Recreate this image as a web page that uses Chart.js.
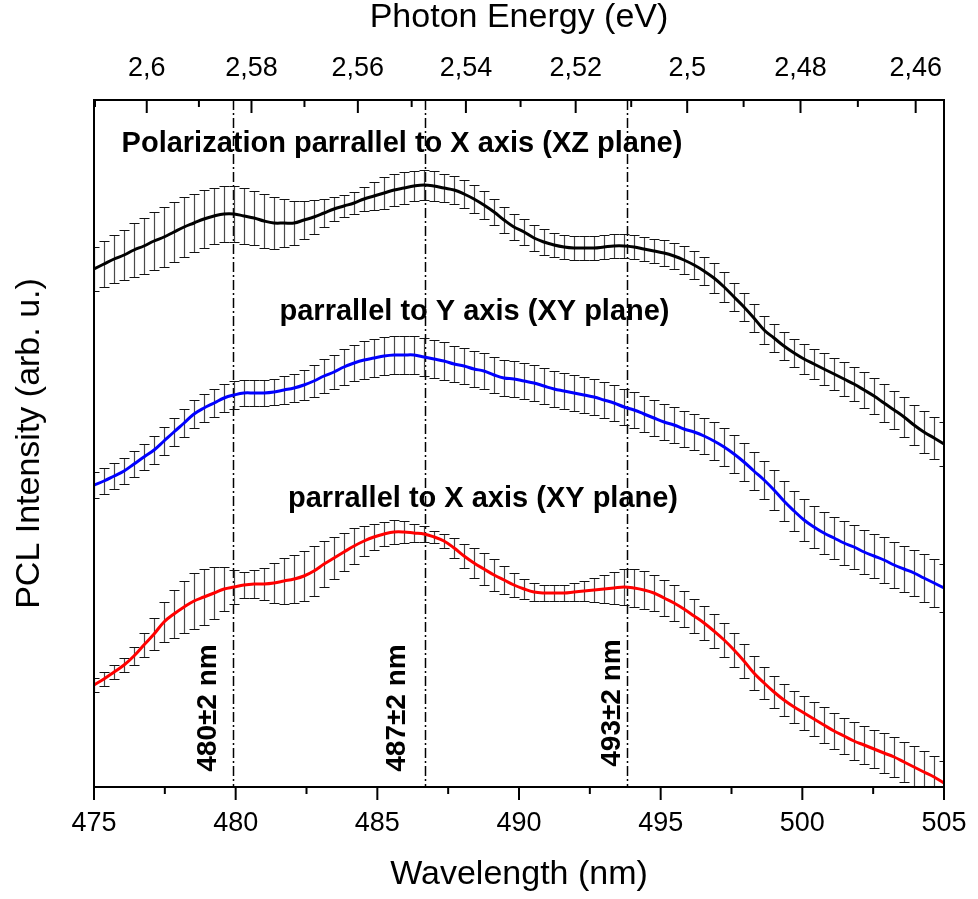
<!DOCTYPE html>
<html>
<head>
<meta charset="utf-8">
<script src="https://cdn.jsdelivr.net/npm/chart.js@4/dist/chart.umd.min.js"></script>
<style>
  html, body { margin: 0; padding: 0; background: #fff; }
  canvas { display: block; }
</style>
</head>
<body>
<canvas id="pcl" width="978" height="899"></canvas>
<script>
// Sampling grid of the PCL spectra (nm)
const wavelengthNm = [
  475.00, 475.35, 475.71, 476.06, 476.41, 476.76, 477.12, 477.47, 477.82, 478.18,
  478.53, 478.88, 479.24, 479.59, 479.94, 480.29, 480.65, 481.00, 481.35, 481.71,
  482.06, 482.41, 482.76, 483.12, 483.47, 483.82, 484.18, 484.53, 484.88, 485.24,
  485.59, 485.94, 486.29, 486.65, 487.00, 487.35, 487.71, 488.06, 488.41, 488.76,
  489.12, 489.47, 489.82, 490.18, 490.53, 490.88, 491.24, 491.59, 491.94, 492.29,
  492.65, 493.00, 493.35, 493.71, 494.06, 494.41, 494.76, 495.12, 495.47, 495.82,
  496.18, 496.53, 496.88, 497.24, 497.59, 497.94, 498.29, 498.65, 499.00, 499.35,
  499.71, 500.06, 500.41, 500.76, 501.12, 501.47, 501.82, 502.18, 502.53, 502.88,
  503.24, 503.59, 503.94, 504.29, 504.65, 505.00
];

// Polarization parallel to X axis, XZ plane (offset trace, arb. u.)
const xzPolX = [
  5.18, 5.23, 5.28, 5.32, 5.37, 5.41, 5.46, 5.50, 5.55, 5.60,
  5.64, 5.68, 5.71, 5.73, 5.73, 5.71, 5.69, 5.66, 5.64, 5.64,
  5.64, 5.67, 5.70, 5.74, 5.78, 5.81, 5.84, 5.88, 5.91, 5.94,
  5.97, 5.99, 6.01, 6.02, 6.01, 5.99, 5.97, 5.93, 5.88, 5.82,
  5.75, 5.67, 5.60, 5.55, 5.49, 5.45, 5.42, 5.40, 5.39, 5.39,
  5.39, 5.40, 5.41, 5.41, 5.40, 5.38, 5.36, 5.34, 5.31, 5.27,
  5.22, 5.16, 5.09, 5.00, 4.90, 4.80, 4.69, 4.57, 4.49, 4.41,
  4.34, 4.28, 4.23, 4.18, 4.13, 4.08, 4.03, 3.97, 3.91, 3.84,
  3.77, 3.70, 3.62, 3.55, 3.49, 3.43
];
const xzPolXErr = [
  0.22, 0.23, 0.24, 0.25, 0.27, 0.28, 0.29, 0.30, 0.30, 0.30,
  0.29, 0.29, 0.28, 0.28, 0.28, 0.28, 0.27, 0.27, 0.26, 0.24,
  0.22, 0.19, 0.17, 0.14, 0.12, 0.11, 0.11, 0.12, 0.14, 0.16,
  0.16, 0.16, 0.15, 0.15, 0.15, 0.14, 0.14, 0.14, 0.14, 0.14,
  0.13, 0.13, 0.13, 0.13, 0.13, 0.13, 0.12, 0.12, 0.12, 0.12,
  0.12, 0.12, 0.12, 0.12, 0.12, 0.12, 0.12, 0.13, 0.13, 0.14,
  0.14, 0.14, 0.15, 0.15, 0.14, 0.14, 0.14, 0.14, 0.14, 0.14,
  0.14, 0.15, 0.15, 0.16, 0.16, 0.17, 0.17, 0.18, 0.18, 0.19,
  0.19, 0.20, 0.20, 0.21, 0.21, 0.22
];

// Polarization parallel to Y axis, XY plane
const xyPolY = [
  3.02, 3.06, 3.11, 3.16, 3.23, 3.30, 3.37, 3.46, 3.55, 3.64,
  3.73, 3.79, 3.84, 3.89, 3.92, 3.94, 3.94, 3.94, 3.95, 3.97,
  3.99, 4.02, 4.06, 4.11, 4.15, 4.20, 4.24, 4.27, 4.29, 4.31,
  4.32, 4.32, 4.32, 4.30, 4.28, 4.26, 4.23, 4.21, 4.18, 4.16,
  4.12, 4.09, 4.08, 4.06, 4.04, 4.01, 3.98, 3.96, 3.94, 3.92,
  3.90, 3.87, 3.84, 3.80, 3.77, 3.73, 3.69, 3.65, 3.62, 3.58,
  3.55, 3.51, 3.46, 3.40, 3.33, 3.25, 3.16, 3.07, 2.97, 2.86,
  2.76, 2.67, 2.60, 2.54, 2.49, 2.44, 2.40, 2.35, 2.31, 2.27,
  2.22, 2.18, 2.14, 2.09, 2.04, 1.99
];
const xyPolYErr = [
  0.13, 0.13, 0.13, 0.13, 0.13, 0.13, 0.14, 0.14, 0.14, 0.14,
  0.14, 0.14, 0.14, 0.14, 0.14, 0.13, 0.13, 0.13, 0.13, 0.14,
  0.14, 0.15, 0.16, 0.17, 0.17, 0.18, 0.18, 0.19, 0.19, 0.19,
  0.19, 0.19, 0.19, 0.19, 0.19, 0.19, 0.18, 0.18, 0.18, 0.18,
  0.18, 0.18, 0.18, 0.18, 0.18, 0.18, 0.18, 0.18, 0.18, 0.18,
  0.18, 0.18, 0.18, 0.18, 0.18, 0.18, 0.18, 0.18, 0.18, 0.18,
  0.18, 0.18, 0.19, 0.19, 0.19, 0.19, 0.19, 0.19, 0.20, 0.20,
  0.20, 0.21, 0.21, 0.21, 0.21, 0.22, 0.22, 0.22, 0.22, 0.23,
  0.23, 0.23, 0.23, 0.24, 0.24, 0.24
];

// Polarization parallel to X axis, XY plane
const xyPolX = [
  1.02, 1.08, 1.15, 1.22, 1.31, 1.42, 1.53, 1.65, 1.73, 1.80,
  1.86, 1.90, 1.94, 1.98, 2.00, 2.02, 2.03, 2.03, 2.04, 2.06,
  2.08, 2.11, 2.16, 2.23, 2.29, 2.35, 2.41, 2.46, 2.50, 2.53,
  2.55, 2.55, 2.54, 2.53, 2.50, 2.46, 2.39, 2.31, 2.24, 2.18,
  2.12, 2.07, 2.02, 1.98, 1.95, 1.94, 1.94, 1.94, 1.95, 1.96,
  1.97, 1.98, 1.99, 2.00, 1.99, 1.97, 1.94, 1.89, 1.84, 1.78,
  1.71, 1.64, 1.56, 1.47, 1.37, 1.26, 1.14, 1.04, 0.95, 0.87,
  0.80, 0.74, 0.68, 0.62, 0.56, 0.51, 0.46, 0.42, 0.38, 0.34,
  0.30, 0.25, 0.20, 0.15, 0.10, 0.04
];
const xyPolXErr = [
  0.07, 0.07, 0.07, 0.07, 0.09, 0.12, 0.16, 0.20, 0.24, 0.26,
  0.28, 0.28, 0.26, 0.22, 0.17, 0.13, 0.14, 0.16, 0.20, 0.23,
  0.24, 0.25, 0.25, 0.23, 0.21, 0.19, 0.18, 0.15, 0.13, 0.12,
  0.12, 0.11, 0.09, 0.08, 0.06, 0.07, 0.10, 0.12, 0.15, 0.16,
  0.16, 0.14, 0.12, 0.10, 0.09, 0.08, 0.08, 0.08, 0.09, 0.10,
  0.12, 0.14, 0.16, 0.18, 0.19, 0.19, 0.18, 0.18, 0.18, 0.18,
  0.17, 0.17, 0.17, 0.17, 0.17, 0.17, 0.17, 0.16, 0.16, 0.16,
  0.16, 0.17, 0.17, 0.18, 0.18, 0.18, 0.19, 0.19, 0.19, 0.20,
  0.20, 0.20, 0.21, 0.21, 0.21, 0.22
];

const seriesNames = [
  'Polarization parrallel to X axis (XZ plane)',
  'parrallel to Y axis (XY plane)',
  'parrallel to X axis (XY plane)'
];

// Peak positions (nm) and their labels
const peakNm = [479.92, 486.68, 493.81];
const peakLabels = ['480\u00b12 nm', '487\u00b12 nm', '493\u00b12 nm'];

// Secondary (photon energy) axis ticks, eV
const energyMajorEv = [2.6, 2.58, 2.56, 2.54, 2.52, 2.5, 2.48, 2.46];
const energyMinorEv = [2.61, 2.59, 2.57, 2.55, 2.53, 2.51, 2.49, 2.47];
const wavelengthMinorNm = [477.5, 482.5, 487.5, 492.5, 497.5, 502.5];

const HC_EV_NM = 1239.84;
const FONT = "'Liberation Sans', Arial, Helvetica, sans-serif";

// Where the text annotations sit, in data units (nm, arb. u.)
const seriesLabelAt = [
  { x: 485.87, y: 6.35 },
  { x: 488.43, y: 4.67 },
  { x: 488.73, y: 2.80 }
];
const peakLabelAt = [
  { x: 479.02, y: 0.79 },
  { x: 485.69, y: 0.79 },
  { x: 493.28, y: 0.84 }
];

const toPoints = vals => vals.map((v, i) => ({ x: wavelengthNm[i], y: v }));

const decorations = {
  id: 'decorations',
  beforeDatasetsDraw(chart) {
    const { ctx, chartArea: a, scales: { x, y } } = chart;
    ctx.save();
    // dash-dot markers at the peak wavelengths
    ctx.strokeStyle = '#000';
    ctx.lineWidth = 1.5;
    ctx.setLineDash([10, 3, 2, 3]);
    peakNm.forEach(nm => {
      const px = Math.round(x.getPixelForValue(nm)) + 0.5;
      ctx.beginPath();
      ctx.moveTo(px, a.top);
      ctx.lineTo(px, a.bottom);
      ctx.stroke();
    });
    ctx.setLineDash([]);
    // error bars with caps
    ctx.beginPath();
    ctx.rect(a.left, a.top, a.right - a.left, a.bottom - a.top);
    ctx.clip();
    chart.data.datasets.forEach(ds => {
      ds.data.forEach((p, i) => {
        const e = ds.errors[i];
        const px = Math.round(x.getPixelForValue(p.x)) + 0.5;
        const t = Math.round(y.getPixelForValue(p.y + e)) + 0.5;
        const b = Math.round(y.getPixelForValue(p.y - e)) + 0.5;
        ctx.lineWidth = 1.2;
        ctx.strokeStyle = '#4a4a4a';
        ctx.beginPath();
        ctx.moveTo(px, t); ctx.lineTo(px, b);
        ctx.stroke();
        ctx.strokeStyle = '#111';
        ctx.lineWidth = 1.2;
        ctx.beginPath();
        ctx.moveTo(px - 5, t); ctx.lineTo(px + 5, t);
        ctx.moveTo(px - 5, b); ctx.lineTo(px + 5, b);
        ctx.stroke();
      });
    });
    ctx.restore();
  },
  afterDraw(chart) {
    const { ctx, chartArea: a, scales: { x, y } } = chart;
    ctx.save();
    ctx.strokeStyle = '#000';
    ctx.lineWidth = 2;
    // frame
    ctx.strokeRect(a.left, a.top, a.right - a.left, a.bottom - a.top);
    // bottom ticks (outward)
    const tick = (px, y0, len) => {
      ctx.beginPath(); ctx.moveTo(px, y0); ctx.lineTo(px, y0 + len); ctx.stroke();
    };
    x.ticks.forEach(t => tick(x.getPixelForValue(t.value), a.bottom, 13));
    wavelengthMinorNm.forEach(v => tick(x.getPixelForValue(v), a.bottom, 7));
    // top ticks (inward), photon energy
    energyMajorEv.forEach(e => tick(x.getPixelForValue(HC_EV_NM / e), a.top, 13));
    energyMinorEv.forEach(e => {
      const nm = HC_EV_NM / e;
      if (nm >= x.min && nm <= x.max) tick(x.getPixelForValue(nm), a.top, 7);
    });

    // series captions
    ctx.fillStyle = '#000';
    ctx.font = `bold 29px ${FONT}`;
    ctx.textAlign = 'center';
    ctx.textBaseline = 'alphabetic';
    seriesNames.forEach((s, i) => {
      const p = seriesLabelAt[i];
      ctx.fillText(s, x.getPixelForValue(p.x), y.getPixelForValue(p.y));
    });
    // rotated peak labels
    ctx.font = `bold 28px ${FONT}`;
    ctx.textBaseline = 'middle';
    peakLabels.forEach((s, i) => {
      const p = peakLabelAt[i];
      ctx.save();
      ctx.translate(x.getPixelForValue(p.x), y.getPixelForValue(p.y));
      ctx.rotate(-Math.PI / 2);
      ctx.fillText(s, 0, 0);
      ctx.restore();
    });
    ctx.restore();
  }
};

new Chart(document.getElementById('pcl'), {
  type: 'line',
  data: {
    datasets: [
      { label: seriesNames[0], data: toPoints(xzPolX), errors: xzPolXErr, borderColor: '#000000' },
      { label: seriesNames[1], data: toPoints(xyPolY), errors: xyPolYErr, borderColor: '#0000ff' },
      { label: seriesNames[2], data: toPoints(xyPolX), errors: xyPolXErr, borderColor: '#ff0000' }
    ].map(d => Object.assign(d, { borderWidth: 3, pointRadius: 0, tension: 0.4, fill: false }))
  },
  options: {
    responsive: false,
    animation: false,
    devicePixelRatio: 1,
    layout: { padding: { left: 0, right: 34, top: 0, bottom: 0 } },
    plugins: { legend: { display: false }, tooltip: { enabled: false } },
    scales: {
      x: {
        type: 'linear', position: 'bottom', min: 475, max: 505,
        ticks: { stepSize: 5, color: '#000', font: { family: FONT, size: 27 }, padding: 0, maxRotation: 0 },
        grid: { display: false, drawTicks: true, tickLength: 20 },
        border: { display: false },
        title: { display: true, text: 'Wavelength (nm)', color: '#000',
                 font: { family: FONT, size: 34, lineHeight: 1 }, padding: { top: 0, bottom: 7 } },
        afterFit(s) { s.height = 112; }
      },
      xEnergy: {
        type: 'linear', position: 'top', min: 475, max: 505,
        afterBuildTicks(s) { s.ticks = energyMajorEv.map(e => ({ value: HC_EV_NM / e })); },
        ticks: {
          autoSkip: false, color: '#000', font: { family: FONT, size: 27 }, padding: 0, maxRotation: 0,
          callback: (v, i) => String(energyMajorEv[i]).replace('.', ',')
        },
        grid: { display: false, drawTicks: true, tickLength: 15 },
        border: { display: false },
        title: { display: true, text: 'Photon Energy (eV)', color: '#000',
                 font: { family: FONT, size: 34, lineHeight: 1 }, padding: { top: 1, bottom: 0 } },
        afterFit(s) { s.height = 100; }
      },
      y: {
        type: 'linear', min: 0, max: 6.87,
        ticks: { display: false },
        grid: { display: false, drawTicks: false },
        border: { display: false },
        title: { display: true, text: 'PCL Intensity (arb. u.)', color: '#000',
                 font: { family: FONT, size: 34, lineHeight: 1 }, padding: { top: 13, bottom: 0 } },
        afterFit(s) { s.width = 94; }
      }
    }
  },
  plugins: [decorations]
});
</script>
</body>
</html>
